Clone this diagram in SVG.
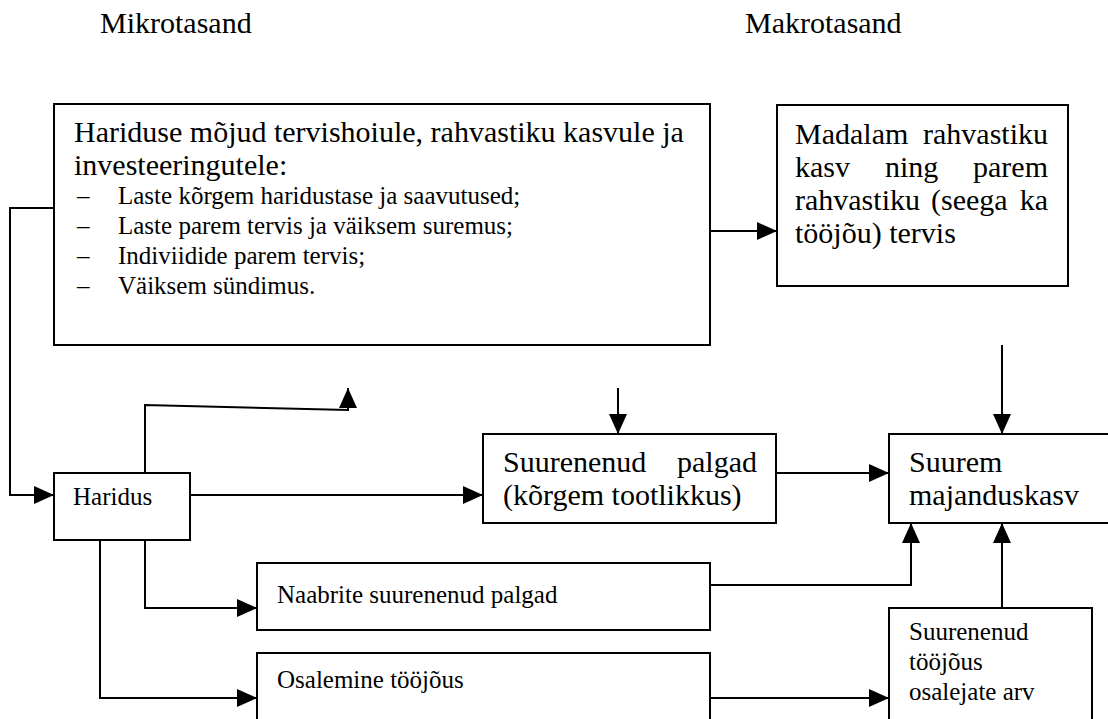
<svg xmlns="http://www.w3.org/2000/svg" width="1108" height="719" viewBox="0 0 1108 719">
<defs>
<marker id="ah" markerWidth="20" markerHeight="18" refX="20" refY="9" orient="auto" markerUnits="userSpaceOnUse">
<path d="M0,0 L20,9 L0,18 Z" fill="#000"/>
</marker>
<style>
.box{fill:#fff;stroke:#000;stroke-width:2}
.ln{fill:none;stroke:#000;stroke-width:2}
.big{font-family:"Liberation Serif","Times New Roman",serif;font-size:30px;fill:#000}
.sm{font-family:"Liberation Serif","Times New Roman",serif;font-size:25px;fill:#000}
.hd{font-family:"Liberation Serif","Times New Roman",serif;font-size:30px;fill:#000}
</style>
</defs>
<rect width="1108" height="719" fill="#fff"/>
<text class="hd" x="100" y="33">Mikrotasand</text>
<text class="hd" x="745" y="33">Makrotasand</text>

<g id="connectors">
<path class="ln" d="M54,208 H10 V495 H54" marker-end="url(#ah)"/>
<path class="ln" d="M710,231 H777" marker-end="url(#ah)"/>
<path class="ln" d="M145,473 V405 L348,410 V388" marker-end="url(#ah)"/>
<path class="ln" d="M190,495 H483" marker-end="url(#ah)"/>
<path class="ln" d="M618,388 V434" marker-end="url(#ah)"/>
<path class="ln" d="M1002,345 V434" marker-end="url(#ah)"/>
<path class="ln" d="M776,473 H889" marker-end="url(#ah)"/>
<path class="ln" d="M145,540 V608 H257" marker-end="url(#ah)"/>
<path class="ln" d="M100,540 V698 H257" marker-end="url(#ah)"/>
<path class="ln" d="M710,585 H911 V523" marker-end="url(#ah)"/>
<path class="ln" d="M710,698 H889" marker-end="url(#ah)"/>
<path class="ln" d="M1002,608 V523" marker-end="url(#ah)"/>
</g>

<g id="node-mojud">
<rect class="box" x="54" y="104" width="656" height="241"/>
<text class="big" x="74" y="142">Hariduse mõjud tervishoiule, rahvastiku kasvule ja</text>
<text class="big" x="74" y="175">investeeringutele:</text>
<text class="sm" x="77" y="204">–</text><text class="sm" x="118" y="204">Laste kõrgem haridustase ja saavutused;</text>
<text class="sm" x="77" y="234">–</text><text class="sm" x="118" y="234">Laste parem tervis ja väiksem suremus;</text>
<text class="sm" x="77" y="264">–</text><text class="sm" x="118" y="264">Indiviidide parem tervis;</text>
<text class="sm" x="77" y="294">–</text><text class="sm" x="118" y="294">Väiksem sündimus.</text>
</g>

<g id="node-madalam">
<rect class="box" x="777" y="105" width="291" height="181"/>
<text class="big" x="795" y="144">Madalam</text><text class="big" x="1048" y="144" text-anchor="end">rahvastiku</text>
<text class="big" x="795" y="177">kasv</text><text class="big" x="885" y="177">ning</text><text class="big" x="1048" y="177" text-anchor="end">parem</text>
<text class="big" x="795" y="210">rahvastiku</text><text class="big" x="931" y="210">(seega</text><text class="big" x="1048" y="210" text-anchor="end">ka</text>
<text class="big" x="795" y="243">tööjõu) tervis</text>
</g>

<g id="node-haridus">
<rect class="box" x="54" y="473" width="136" height="67"/>
<text class="sm" x="73" y="505">Haridus</text>
</g>

<g id="node-palgad">
<rect class="box" x="483" y="434" width="293" height="89"/>
<text class="big" x="503" y="472">Suurenenud</text><text class="big" x="757" y="472" text-anchor="end">palgad</text>
<text class="big" x="503" y="505">(kõrgem tootlikkus)</text>
</g>

<g id="node-kasv">
<rect class="box" x="889" y="434" width="240" height="89"/>
<text class="big" x="909" y="472">Suurem</text>
<text class="big" x="909" y="505">majanduskasv</text>
</g>

<g id="node-naabrite">
<rect class="box" x="257" y="563" width="453" height="67"/>
<text class="sm" x="277" y="603">Naabrite suurenenud palgad</text>
</g>

<g id="node-osalemine">
<rect class="box" x="257" y="653" width="453" height="80"/>
<text class="sm" x="277" y="688">Osalemine tööjõus</text>
</g>

<g id="node-toojous">
<rect class="box" x="889" y="608" width="203" height="130"/>
<text class="sm" x="909" y="640">Suurenenud</text>
<text class="sm" x="909" y="670">tööjõus</text>
<text class="sm" x="909" y="700">osalejate arv</text>
</g>
</svg>
